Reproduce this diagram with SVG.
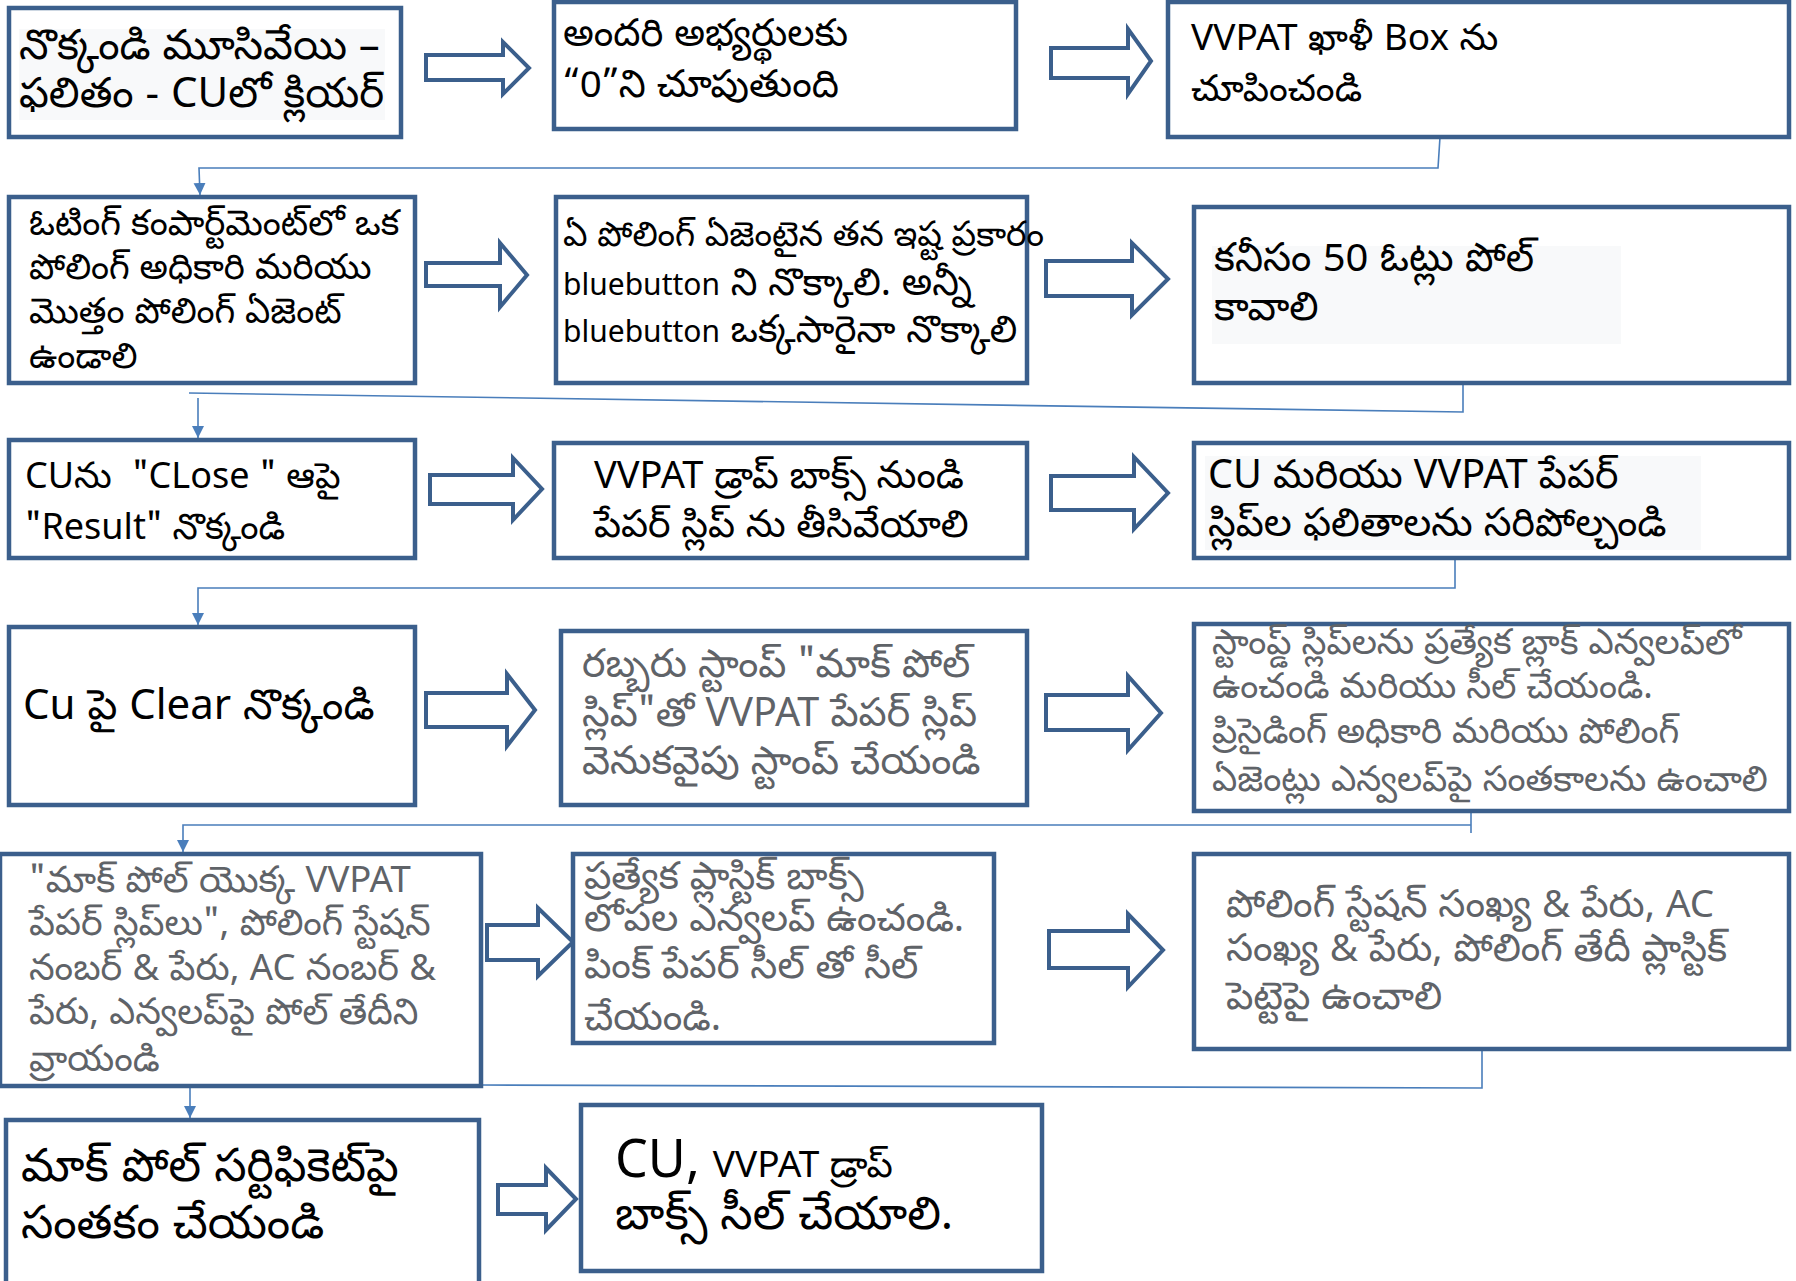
<svg xmlns="http://www.w3.org/2000/svg" width="1796" height="1281" viewBox="0 0 1796 1281">
<style>
.box{fill:#fff;stroke:#3b5f8c;stroke-width:4.5}
.ba{fill:#fff;stroke:#3b5f8c;stroke-width:4;stroke-linejoin:miter}
.conn{fill:none;stroke:#4a7ebb;stroke-width:1.6}
.hl{fill:#f8f9fa}
text{font-family:"Noto Sans Telugu","Noto Sans","Open Sans",sans-serif;fill:#000}
.g{fill:#5f6368}
</style>
<defs>
<marker id="ah" markerUnits="userSpaceOnUse" markerWidth="14" markerHeight="14" refX="12" refY="6" orient="auto">
<path d="M0,0 L12,6 L0,12 z" fill="#4a7ebb"/>
</marker>
</defs>
<rect width="1796" height="1281" fill="#fff"/>

<g id="connectors">
<path class="conn" d="M1440,137 L1438,168 L199,168 L200,195" marker-end="url(#ah)"/>
<path class="conn" d="M1463,383 L1463,412 L189,393"/>
<path class="conn" d="M198,398 L198,438" marker-end="url(#ah)"/>
<path class="conn" d="M1455,558 L1455,588 L198,588 L198,625" marker-end="url(#ah)"/>
<path class="conn" d="M1471,813 L1471,833 M1471,825 L183,825 L183,852" marker-end="url(#ah)"/>
<path class="conn" d="M1482,1049 L1482,1088 L481,1085"/>
<path class="conn" d="M190,1088 L190,1118" marker-end="url(#ah)"/>
</g>

<g id="block-arrows">
<polygon class="ba" points="426,55 503,55 503,42 529,68 503,94 503,80 426,80"/>
<polygon class="ba" points="1051,48 1128,48 1128,29 1151,61 1128,94 1128,78 1051,78"/>
<polygon class="ba" points="426,263 500,263 500,243 527,275 500,307 500,286 426,286"/>
<polygon class="ba" points="1046,261 1132,261 1132,243 1168,279 1132,315 1132,296 1046,296"/>
<polygon class="ba" points="430,475 513,475 513,458 542,489 513,520 513,504 430,504"/>
<polygon class="ba" points="1051,476 1134,476 1134,457 1168,493 1134,529 1134,510 1051,510"/>
<polygon class="ba" points="426,693 507,693 507,674 535,710 507,746 507,727 426,727"/>
<polygon class="ba" points="1046,695 1128,695 1128,676 1161,713 1128,750 1128,730 1046,730"/>
<polygon class="ba" points="487,925 538,925 538,908 573,942 538,976 538,960 487,960"/>
<polygon class="ba" points="1049,931 1128,931 1128,914 1163,950 1128,987 1128,968 1049,968"/>
<polygon class="ba" points="498,1185 546,1185 546,1168 576,1199 546,1230 546,1214 498,1214"/>
</g>

<g id="n1">
<rect class="box" x="9" y="8" width="392" height="129"/>
<rect class="hl" x="19" y="29" width="366" height="91"/>
<text font-size="42"><tspan x="19" y="59">నొక్కండి మూసివేయి –</tspan><tspan x="19" y="107">ఫలితం - CUలో క్లియర్</tspan></text>
</g>
<g id="n2">
<rect class="box" x="554" y="2" width="462" height="127"/>
<text font-size="38.5"><tspan x="563" y="46">అందరి అభ్యర్థులకు</tspan><tspan x="563" y="97">“0”ని చూపుతుంది</tspan></text>
</g>
<g id="n3">
<rect class="box" x="1168" y="2" width="621" height="135"/>
<text font-size="37"><tspan x="1191" y="50">VVPAT ఖాళీ Box ను</tspan><tspan x="1191" y="101">చూపించండి</tspan></text>
</g>

<g id="n4">
<rect class="box" x="9" y="197" width="406" height="186"/>
<text font-size="35.5"><tspan x="29" y="235">ఓటింగ్ కంపార్ట్‌మెంట్‌లో ఒక</tspan><tspan x="29" y="279">పోలింగ్ అధికారి మరియు</tspan><tspan x="29" y="323">మొత్తం పోలింగ్ ఏజెంట్</tspan><tspan x="29" y="368">ఉండాలి</tspan></text>
</g>
<g id="n5">
<rect class="box" x="556" y="197" width="471" height="186"/>
<text font-size="34.5"><tspan x="563" y="246">ఏ పోలింగ్ ఏజెంటైన తన ఇష్ట ప్రకారం</tspan></text>
<text font-size="38"><tspan x="563" y="295"><tspan font-size="30">bluebutton</tspan> ని నొక్కాలి. అన్నీ</tspan></text>
<text font-size="37.5"><tspan x="563" y="342"><tspan font-size="30">bluebutton</tspan> ఒక్కసారైనా నొక్కాలి</tspan></text>
</g>
<g id="n6">
<rect class="box" x="1194" y="207" width="595" height="176"/>
<rect class="hl" x="1212" y="246" width="409" height="98"/>
<text font-size="40"><tspan x="1214" y="271">కనీసం 50 ఓట్లు పోల్</tspan><tspan x="1214" y="320">కావాలి</tspan></text>
</g>

<g id="n7">
<rect class="box" x="9" y="440" width="406" height="118"/>
<text font-size="36"><tspan x="25" y="488">CUను&#160; "CLose " ఆపై</tspan><tspan x="25" y="539">"Result" నొక్కండి</tspan></text>
</g>
<g id="n8">
<rect class="box" x="554" y="443" width="473" height="115"/>
<text font-size="38"><tspan x="594" y="488">VVPAT డ్రాప్ బాక్స్ నుండి</tspan><tspan x="594" y="537">పేపర్ స్లిప్ ను తీసివేయాలి</tspan></text>
</g>
<g id="n9">
<rect class="box" x="1194" y="443" width="595" height="115"/>
<rect class="hl" x="1205" y="456" width="496" height="94"/>
<text font-size="39.5"><tspan x="1208" y="488">CU మరియు VVPAT పేపర్</tspan><tspan x="1208" y="536">స్లిప్‌ల ఫలితాలను సరిపోల్చండి</tspan></text>
</g>

<g id="n10">
<rect class="box" x="9" y="627" width="406" height="178"/>
<text font-size="42"><tspan x="23" y="719">Cu పై Clear నొక్కండి</tspan></text>
</g>
<g id="n11">
<rect class="box" x="561" y="631" width="466" height="174"/>
<text class="g" font-size="39.5"><tspan x="582" y="677">రబ్బరు స్టాంప్ "మాక్ పోల్</tspan><tspan x="582" y="726">స్లిప్"తో VVPAT పేపర్ స్లిప్</tspan><tspan x="582" y="774">వెనుకవైపు స్టాంప్ చేయండి</tspan></text>
</g>
<g id="n12">
<rect class="box" x="1194" y="624" width="595" height="187"/>
<text class="g" font-size="35.5"><tspan x="1212" y="654">స్టాంప్డ్ స్లిప్‌లను ప్రత్యేక బ్లాక్ ఎన్వలప్‌లో</tspan><tspan x="1212" y="698">ఉంచండి మరియు సీల్ చేయండి.</tspan><tspan x="1212" y="743">ప్రిసైడింగ్ అధికారి మరియు పోలింగ్</tspan><tspan x="1212" y="791">ఏజెంట్లు ఎన్వలప్‌పై సంతకాలను ఉంచాలి</tspan></text>
</g>

<g id="n13">
<rect class="box" x="0" y="854" width="481" height="232"/>
<text class="g" font-size="36.5"><tspan x="29" y="892">"మాక్ పోల్ యొక్క VVPAT</tspan><tspan x="29" y="935">పేపర్ స్లిప్‌లు", పోలింగ్ స్టేషన్</tspan><tspan x="29" y="980">నంబర్ &amp; పేరు, AC నంబర్ &amp;</tspan><tspan x="29" y="1024">పేరు, ఎన్వలప్‌పై పోల్ తేదీని</tspan><tspan x="29" y="1071">వ్రాయండి</tspan></text>
</g>
<g id="n14">
<rect class="box" x="573" y="854" width="421" height="189"/>
<text class="g" font-size="38.5"><tspan x="584" y="889">ప్రత్యేక ప్లాస్టిక్ బాక్స్</tspan><tspan x="584" y="931">లోపల ఎన్వలప్ ఉంచండి.</tspan><tspan x="584" y="978">పింక్ పేపర్ సీల్ తో సీల్</tspan><tspan x="584" y="1030">చేయండి.</tspan></text>
</g>
<g id="n15">
<rect class="box" x="1194" y="854" width="595" height="195"/>
<text class="g" font-size="38.5"><tspan x="1226" y="917">పోలింగ్ స్టేషన్ సంఖ్య &amp; పేరు, AC</tspan><tspan x="1226" y="961">సంఖ్య &amp; పేరు, పోలింగ్ తేదీ ప్లాస్టిక్</tspan><tspan x="1226" y="1009">పెట్టెపై ఉంచాలి</tspan></text>
</g>

<g id="n16">
<rect class="box" x="6" y="1120" width="473" height="170"/>
<text font-size="46"><tspan x="21" y="1181">మాక్ పోల్ సర్టిఫికెట్‌పై</tspan><tspan x="21" y="1238">సంతకం చేయండి</tspan></text>
</g>
<g id="n17">
<rect class="box" x="581" y="1105" width="461" height="166"/>
<text font-size="46"><tspan x="615" y="1177"><tspan font-size="52">CU,</tspan> <tspan font-size="37">VVPAT డ్రాప్</tspan></tspan><tspan x="615" y="1229">బాక్స్ సీల్ చేయాలి.</tspan></text>
</g>
</svg>
